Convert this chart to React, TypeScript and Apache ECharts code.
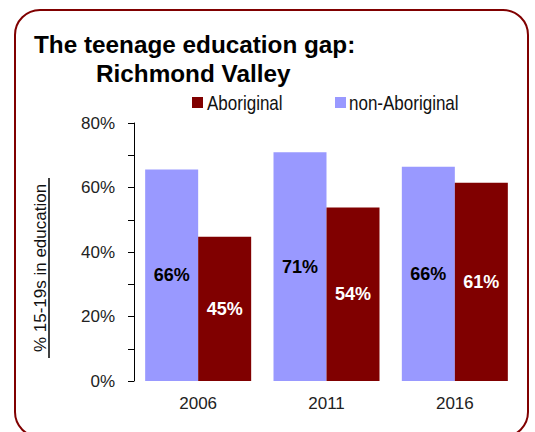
import React, { useEffect, useRef } from "react";
import * as echarts from "echarts";

const years = ["2006", "2011", "2016"];
const nonAboriginal = [65.6, 70.9, 66.4];
const aboriginal = [44.7, 53.8, 61.5];
const nonAboriginalLabels = ["66%", "71%", "66%"];
const aboriginalLabels = ["45%", "54%", "61%"];
const seriesNames = ["Aboriginal", "non-Aboriginal"];
const titleLines = ["The teenage education gap:", "Richmond Valley"];
const yAxisTitle = "% 15-19s in education";

const FONT = "'Liberation Sans', Arial, sans-serif";

export default function App() {
  const ref = useRef<HTMLDivElement>(null);
  useEffect(() => {
    document.body.style.margin = "0";
    if (!ref.current) return;
    const chart = echarts.init(ref.current, undefined, { renderer: "svg" });
    const legendCommon = {
      top: 97,
      itemWidth: 11,
      itemHeight: 11,
      icon: "rect",
      padding: 0,
      formatter: () => "",
      textStyle: { fontSize: 11, padding: 0 },
    };
    chart.setOption({
      animation: false,
      backgroundColor: "#ffffff",
      textStyle: { fontFamily: FONT },
      grid: { left: 134, right: 16, top: 123, bottom: 51, containLabel: false },
      legend: [
        { ...legendCommon, data: [seriesNames[0]], left: 192 },
        { ...legendCommon, data: [seriesNames[1]], left: 335 },
      ],
      xAxis: {
        type: "category",
        data: years,
        axisLine: { show: false },
        axisTick: { show: false },
        axisLabel: { fontSize: 17, color: "#222", margin: 14, fontFamily: FONT },
      },
      yAxis: {
        type: "value",
        min: 0,
        max: 80,
        interval: 20,
        splitLine: { show: false },
        axisLine: { show: true, lineStyle: { color: "#000", width: 1 } },
        axisTick: { show: true, length: 6, lineStyle: { color: "#000" } },
        minorTick: { show: true, splitNumber: 2, length: 6, lineStyle: { color: "#000" } },
        axisLabel: {
          fontSize: 17,
          color: "#222",
          margin: 19,
          fontFamily: FONT,
          formatter: (v: number) => v + "%",
        },
      },
      series: [
        {
          name: seriesNames[1],
          type: "bar",
          data: nonAboriginal,
          barGap: "0%",
          barCategoryGap: "17.4%",
          itemStyle: { color: "#9999FF" },
          label: {
            show: true,
            position: "inside",
            fontSize: 18,
            fontWeight: "bold",
            color: "#000",
            fontFamily: FONT,
            formatter: (p: any) => nonAboriginalLabels[p.dataIndex],
          },
        },
        {
          name: seriesNames[0],
          type: "bar",
          data: aboriginal,
          itemStyle: { color: "#800000" },
          label: {
            show: true,
            position: "inside",
            fontSize: 18,
            fontWeight: "bold",
            color: "#fff",
            fontFamily: FONT,
            formatter: (p: any) => aboriginalLabels[p.dataIndex],
          },
        },
      ],
      graphic: [
        {
          type: "rect",
          shape: { x: 15, y: 10, width: 513, height: 427, r: 25 },
          style: { fill: "none", stroke: "#800000", lineWidth: 2 },
          silent: true,
        },
        {
          type: "text",
          x: 34,
          y: 44,
          style: { text: titleLines[0], font: "bold 24.3px " + FONT, fill: "#000", verticalAlign: "middle" },
        },
        {
          type: "text",
          x: 96,
          y: 73,
          style: { text: titleLines[1], font: "bold 24.3px " + FONT, fill: "#000", verticalAlign: "middle" },
        },
        {
          type: "text",
          x: 207,
          y: 103,
          scaleX: 0.81,
          style: { text: seriesNames[0], font: "21px " + FONT, fill: "#111", verticalAlign: "middle" },
        },
        {
          type: "text",
          x: 349,
          y: 103,
          scaleX: 0.81,
          style: { text: seriesNames[1], font: "21px " + FONT, fill: "#111", verticalAlign: "middle" },
        },
        {
          type: "text",
          x: 40,
          y: 268,
          rotation: Math.PI / 2,
          style: {
            text: yAxisTitle,
            font: "17px " + FONT,
            fill: "#111",
            align: "center",
            verticalAlign: "middle",
          },
        },
        {
          type: "line",
          shape: { x1: 49, y1: 178, x2: 49, y2: 358 },
          style: { stroke: "#000", lineWidth: 1.5 },
        },
        {
          type: "text",
          x: 301,
          y: 157,
          style: { text: "1", font: "6px " + FONT, fill: "#333" },
        },
      ],
    });
    return () => chart.dispose();
  }, []);
  return <div ref={ref} style={{ width: 535, height: 432 }} />;
}
